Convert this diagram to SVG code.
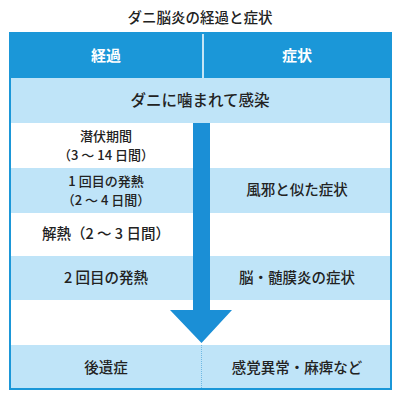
<svg xmlns="http://www.w3.org/2000/svg" width="400" height="400" viewBox="0 0 400 400">
<style>
text{font-family:"Noto Sans CJK JP","Noto Sans",sans-serif;fill:#222;text-anchor:middle;font-weight:500}
.t{font-size:14.5px}
.s{font-size:15.5px}
.h{font-size:15px;font-weight:bold;fill:#fff}
.c{font-size:14.5px}
.d{font-size:13px}
.lb{fill:#bfe4f8}
.wh{fill:#fff}
</style>
<rect width="400" height="400" fill="#fff"/>
<text class="t" x="200" y="23">ダニ脳炎の経過と症状</text>
<g id="header">
<rect x="10" y="33" width="381" height="45" fill="#1b97d8"/>
<line x1="203" y1="33" x2="203" y2="78" stroke="#fff" stroke-width="1.5"/>
<text class="h" x="106" y="61">経過</text>
<text class="h" x="297" y="61">症状</text>
</g>
<g id="infection">
<rect class="lb" x="11" y="78" width="379" height="45"/>
<text class="s" x="200" y="106">ダニに噛まれて感染</text>
</g>
<g id="latent">
<rect class="wh" x="11" y="123" width="379" height="45"/>
<text class="d" x="106" y="141">潜伏期間</text>
<text class="d" x="106" y="160">（3 ～ 14 日間）</text>
</g>
<g id="fever1">
<rect class="lb" x="11" y="168" width="379" height="45"/>
<text class="d" x="106" y="186">1 回目の発熱</text>
<text class="d" x="106" y="205">（2 ～ 4 日間）</text>
<text class="c" x="297" y="195">風邪と似た症状</text>
</g>
<g id="antipyresis">
<rect class="wh" x="11" y="213" width="379" height="43"/>
<text class="c" x="106" y="239">解熱（2 ～ 3 日間）</text>
</g>
<g id="fever2">
<rect class="lb" x="11" y="256" width="379" height="44"/>
<text class="c" x="106" y="283">2 回目の発熱</text>
<text class="c" x="297" y="283">脳・髄膜炎の症状</text>
</g>
<g id="blank">
<rect class="wh" x="11" y="300" width="379" height="45"/>
</g>
<g id="sequelae">
<rect class="lb" x="11" y="345" width="379" height="43"/>
<line x1="201.5" y1="345" x2="201.5" y2="388" stroke="#6fb9e3" stroke-width="1" stroke-dasharray="1,1"/>
<text class="c" x="106" y="373">後遺症</text>
<text class="c" x="297" y="373">感覚異常・麻痺など</text>
</g>
<rect x="10" y="33" width="381" height="356" fill="none" stroke="#1b97d8" stroke-width="2"/>
<g id="connectors">
<path d="M193,123 H210 V310 H232 L201.5,343 L170,310 H193 Z" fill="#1b8fd6"/>
</g>
</svg>
